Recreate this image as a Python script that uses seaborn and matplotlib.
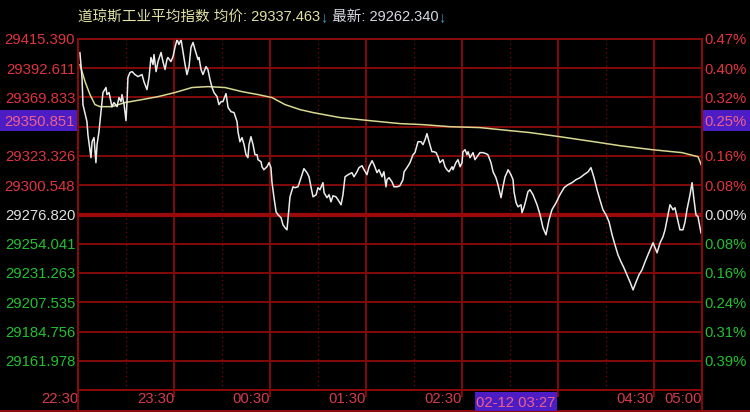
import numpy as np
import pandas as pd
import matplotlib
matplotlib.use("Agg")
import matplotlib.pyplot as plt
import seaborn as sns
from matplotlib.lines import Line2D
from matplotlib.patches import Rectangle

# intraday index, minutes after 22:30
price_minutes = [
    1.2, 2.5, 3.1, 5.6, 6.2, 8.1, 8.8, 10.0, 11.2, 11.9,
    13.1, 14.4, 15.6, 17.5, 18.1, 19.4, 20.6, 21.2, 22.5, 24.4,
    25.6, 26.9, 27.5, 28.8, 30.0, 30.6, 31.2, 32.5, 33.8, 35.6,
    37.5, 40.0, 41.2, 43.1, 44.4, 45.6, 46.9, 47.5, 48.8, 50.0,
    51.9, 53.1, 54.4, 55.6, 56.2, 58.1, 59.4, 60.6, 61.9, 63.1,
    64.4, 65.6, 66.9, 68.1, 69.4, 70.6, 71.9, 73.1, 75.0, 75.6,
    76.9, 78.1, 80.0, 81.2, 82.5, 83.8, 85.0, 86.9, 88.1, 89.4,
    90.6, 92.5, 93.8, 95.6, 97.5, 99.4, 100.0, 101.2, 102.5, 103.8,
    105.0, 106.2, 106.9, 108.1, 109.4, 110.6, 111.9, 112.5, 114.4, 115.0,
    116.2, 118.1, 119.4, 120.6, 121.2, 122.5, 123.8, 125.0, 126.9, 128.1,
    129.4, 130.6, 131.2, 132.5, 134.4, 135.6, 137.5, 139.4, 141.2, 143.1,
    144.4, 145.6, 146.9, 148.8, 150.0, 151.2, 153.1, 153.8, 155.6, 156.9,
    158.1, 159.4, 161.2, 162.5, 164.4, 165.6, 166.9, 168.8, 171.2, 172.5,
    174.4, 175.6, 177.5, 178.8, 180.6, 181.9, 183.8, 185.0, 186.9, 188.1,
    190.0, 191.2, 192.5, 193.1, 194.4, 196.2, 197.5, 199.4, 201.2, 203.1,
    203.8, 205.6, 207.5, 209.4, 210.6, 212.5, 214.4, 215.6, 216.9, 218.1,
    219.4, 221.2, 222.5, 223.8, 225.0, 226.2, 228.1, 229.4, 230.6, 231.9,
    233.8, 234.4, 236.2, 237.5, 238.8, 240.0, 240.6, 241.9, 243.1, 243.8,
    245.0, 246.9, 248.1, 249.4, 251.2, 253.1, 255.0, 256.2, 258.1, 259.4,
    261.2, 262.5, 264.4, 265.6, 266.9, 268.1, 268.8, 270.6, 271.9, 272.5,
    273.8, 275.0, 276.9, 277.5, 278.8, 280.0, 281.2, 282.5, 284.4, 286.9,
    288.8, 290.6, 292.5, 294.4, 296.2, 298.8, 301.2, 303.8, 306.2, 308.8,
    311.2, 313.8, 316.2, 318.8, 320.6, 322.5, 324.4, 326.2, 328.1, 330.0,
    331.9, 333.8, 335.6, 337.5, 339.4, 341.2, 343.1, 345.0, 346.9, 348.8,
    350.6, 352.5, 354.4, 356.2, 358.1, 359.4, 361.9, 363.8, 365.6, 366.9,
    368.8, 370.0, 371.9, 373.1, 374.4, 376.2, 378.1, 379.4, 380.6, 382.5,
    383.8, 385.0, 386.2, 387.5, 389.4,
]
price_values = [
    29403.0, 29383.5, 29362.4, 29349.1, 29339.0, 29321.1, 29333.5, 29336.7, 29317.2, 29331.2,
    29341.3, 29356.9, 29371.8, 29375.7, 29370.2, 29371.8, 29364.7, 29360.8, 29364.0, 29360.8,
    29367.9, 29364.7, 29370.2, 29362.4, 29349.9, 29364.0, 29383.5, 29387.4, 29388.1, 29385.8,
    29384.2, 29385.8, 29380.3, 29374.1, 29383.5, 29399.1, 29393.6, 29401.4, 29388.1, 29395.9,
    29403.0, 29395.9, 29389.7, 29397.5, 29399.1, 29395.9, 29399.8, 29406.9, 29413.1, 29409.2,
    29413.1, 29403.7, 29393.6, 29385.8, 29392.0, 29406.9, 29410.8, 29405.3, 29397.5, 29399.1,
    29389.7, 29385.8, 29392.0, 29389.7, 29381.9, 29375.7, 29371.8, 29368.6, 29362.4, 29364.7,
    29364.7, 29371.0, 29360.1, 29356.9, 29356.2, 29349.1, 29341.3, 29333.5, 29336.7, 29331.2,
    29323.4, 29321.1, 29331.2, 29337.4, 29331.2, 29323.4, 29323.4, 29319.5, 29317.9, 29314.0,
    29311.7, 29314.0, 29317.2, 29313.3, 29302.3, 29289.9, 29278.9, 29276.6, 29274.3, 29268.8,
    29266.5, 29264.9, 29272.7, 29290.6, 29298.4, 29297.7, 29298.4, 29305.5, 29312.5, 29309.4,
    29306.2, 29298.4, 29290.6, 29292.2, 29297.7, 29296.1, 29301.6, 29293.8, 29289.9, 29292.2,
    29286.7, 29291.4, 29290.6, 29288.3, 29284.4, 29292.2, 29306.2, 29307.8, 29309.4, 29306.2,
    29310.1, 29313.3, 29314.8, 29311.7, 29307.8, 29314.0, 29318.7, 29315.6, 29309.4, 29311.7,
    29306.2, 29310.1, 29298.4, 29303.9, 29305.5, 29302.3, 29298.4, 29298.4, 29299.2, 29303.9,
    29310.1, 29313.3, 29317.2, 29323.4, 29325.0, 29333.5, 29333.5, 29331.2, 29335.1, 29339.8,
    29333.5, 29325.7, 29325.7, 29325.0, 29321.8, 29317.2, 29319.5, 29314.0, 29311.7, 29310.1,
    29314.0, 29311.7, 29317.2, 29319.5, 29314.0, 29317.2, 29325.7, 29327.3, 29323.4, 29325.7,
    29321.1, 29325.0, 29319.5, 29321.8, 29325.0, 29325.0, 29324.2, 29323.4, 29317.2, 29310.1,
    29305.5, 29300.0, 29289.9, 29298.4, 29306.2, 29309.4, 29311.7, 29307.8, 29303.9, 29294.5,
    29286.0, 29282.8, 29284.4, 29278.2, 29282.8, 29288.3, 29294.5, 29296.1, 29292.2, 29284.4,
    29276.6, 29266.5, 29261.0, 29272.7, 29280.5, 29286.0, 29292.2, 29297.7, 29300.0, 29301.6,
    29303.9, 29305.5, 29307.8, 29310.1, 29313.3, 29305.5, 29296.1, 29288.3, 29280.5, 29276.6,
    29271.1, 29261.0, 29253.2, 29245.4, 29239.9, 29235.3, 29229.8, 29224.3, 29218.1, 29224.3,
    29229.8, 29233.7, 29239.9, 29245.4, 29250.9, 29254.8, 29247.0, 29254.8, 29259.4, 29264.9,
    29276.6, 29284.4, 29280.5, 29282.1, 29275.0, 29264.9, 29264.9, 29271.1, 29280.5, 29292.2,
    29301.6, 29288.3, 29276.6, 29275.0, 29262.3,
]

# average price (yellow line)
avg_minutes = [1.2, 4.4, 7.5, 10.6, 13.8, 21.2, 29.4, 40.0, 50.0, 60.6,
               71.2, 81.2, 91.9, 102.5, 112.5, 121.2, 129.4, 138.8, 146.9, 163.8,
               182.5, 201.2, 215.6, 232.5, 251.2, 263.8, 282.5, 301.2, 326.2, 338.8,
               358.8, 377.5, 387.5, 388.8, 389.4]
avg_values = [29393.6, 29380.3, 29370.2, 29362.4, 29360.8, 29360.8, 29364.0, 29366.3, 29368.6, 29371.8,
              29375.7, 29376.4, 29375.7, 29372.5, 29370.2, 29367.9, 29362.4, 29358.5, 29356.2, 29352.3,
              29349.9, 29347.6, 29346.8, 29345.2, 29344.5, 29342.9, 29340.6, 29337.4, 29332.8, 29330.4,
              29327.3, 29325.0, 29321.8, 29317.9, 29315.6]

prev_close = 29276.820
price_step = 22.7785
# labels hidden under the cursor boxes are left blank
left_labels = ["29415.390", "29392.611", "29369.833", "", "29323.326", "29300.548",
               "29276.820", "29254.041", "29231.263", "29207.535", "29184.756", "29161.978"]
right_labels = ["0.47%", "0.40%", "0.32%", "", "0.16%", "0.08%",
                "0.00%", "0.08%", "0.16%", "0.24%", "0.31%", "0.39%"]
time_labels = ["22:30", "23:30", "00:30", "01:30", "02:30", "03:30", "04:30", "05:00"]

title_parts = [("道琼斯工业平均指数 均价: 29337.463", "#e2e2a4"), ("↓", "#3a9cc4"),
               (" 最新: 29262.340", "#d6d8e2"), ("↓", "#3a9cc4")]
cursor_price = "29350.851"
cursor_pct = "0.25%"
cursor_time = "02-12 03:27"

GRID = "#8c0b0b"
DOT = "#7a0a0a"
UP = "#e0343e"
DOWN = "#22c030"
FLAT = "#e0e0e0"
BOX = "#4c1cc4"
BOXTXT = "#f0608c"
FS = 10.7

sns.set_theme(style="dark", rc={"axes.facecolor": "black", "figure.facecolor": "black"})
plt.rcParams["font.family"] = ["Liberation Sans", "Noto Sans CJK SC"]

W, H = 750, 412
fig = plt.figure(figsize=(W / 100, H / 100), dpi=100)
ax = fig.add_axes([78 / W, 1 - 390 / H, 624 / W, 351 / H])
ax.set_facecolor("black")
ax.grid(False)

levels = prev_close + price_step * np.arange(6, -7, -1)
tick_min = [((int(s[:2]) * 60 + int(s[3:])) - (22 * 60 + 30)) % 1440 for s in time_labels]

# grid
for k, lv in zip(range(6, -7, -1), levels):
    if k in (6, -6):
        continue
    ax.axhline(lv, color="#9a0a0a" if k == 0 else GRID, lw=3 if k == 0 else 1.3, zorder=1)
for t in tick_min[1:-1]:
    ax.axvline(t, color=GRID, lw=1.3, zorder=1)
for t in np.arange(30, 390, 60):
    ax.axvline(t, color=DOT, lw=0.9, ls=(0, (1, 2.5)), zorder=1)

df_price = pd.DataFrame({"t": price_minutes, "p": price_values})
df_avg = pd.DataFrame({"t": avg_minutes, "p": avg_values})
sns.lineplot(data=df_avg, x="t", y="p", ax=ax, color="#d8d890", lw=1.1, zorder=3)
sns.lineplot(data=df_price, x="t", y="p", ax=ax, color="#ececec", lw=1.1, zorder=4)

ax.set_xlim(0, 390)
ax.set_ylim(levels[-1], levels[0])
ax.set_xlabel("")
ax.set_ylabel("")

def lab_color(i):
    k = 6 - i
    return UP if k > 0 else (FLAT if k == 0 else DOWN)

ax.set_yticks(levels[:12], left_labels)
ax.tick_params(axis="y", length=0, pad=2.0, labelsize=FS)
for i, lbl in enumerate(ax.get_yticklabels()):
    lbl.set_color(lab_color(i))

ax.set_xticks(tick_min, [s if s != "03:30" else "" for s in time_labels])
ax.tick_params(axis="x", bottom=True, length=5, width=1.3, color=GRID, pad=-3.6,
               labelsize=FS, labelcolor="#d63c4c")
for lbl in ax.get_xticklabels():
    lbl.set_ha("right")

ax2 = ax.twinx()
ax2.set_ylim(levels[-1], levels[0])
ax2.grid(False)
ax2.set_yticks(levels[:12], right_labels)
ax2.tick_params(axis="y", length=0, pad=2.0, labelsize=FS)
for i, lbl in enumerate(ax2.get_yticklabels()):
    lbl.set_color(lab_color(i))

for a in (ax, ax2):
    for sp in a.spines.values():
        sp.set_color(GRID)
        sp.set_linewidth(1.3)

# frame extensions below the plot
fy = lambda y: 1 - y / H
fig.add_artist(Line2D([0, 1], [fy(410.5)] * 2, transform=fig.transFigure, color=GRID, lw=1.5))
for x in (78, 702):
    fig.add_artist(Line2D([x / W] * 2, [fy(411), fy(390)], transform=fig.transFigure, color=GRID, lw=1.3))

# cursor boxes
def box(x0, y0, x1, y1, text, tx, ha):
    fig.add_artist(Rectangle((x0 / W, fy(y1)), (x1 - x0) / W, (y1 - y0) / H,
                             transform=fig.transFigure, facecolor=BOX, edgecolor="none", zorder=10))
    fig.text(tx / W, fy((y0 + y1) / 2), text, color=BOXTXT, fontsize=FS, ha=ha, va="center_baseline", zorder=11)

box(0, 110, 77, 131, cursor_price, 75, "right")
box(703, 110, 750, 131, cursor_pct, 704, "left")
box(475, 392, 557, 411, cursor_time, 476, "left")

# title line
prev = fig.text(78 / W, fy(24), title_parts[0][0], color=title_parts[0][1], fontsize=10.5,
                ha="left", va="bottom")
for s, c in title_parts[1:]:
    prev = ax.annotate(s, xy=(1, 0), xycoords=prev, color=c, fontsize=10.5, ha="left", va="bottom",
                       annotation_clip=False)

fig.savefig("out.png", dpi=100, facecolor="black")
